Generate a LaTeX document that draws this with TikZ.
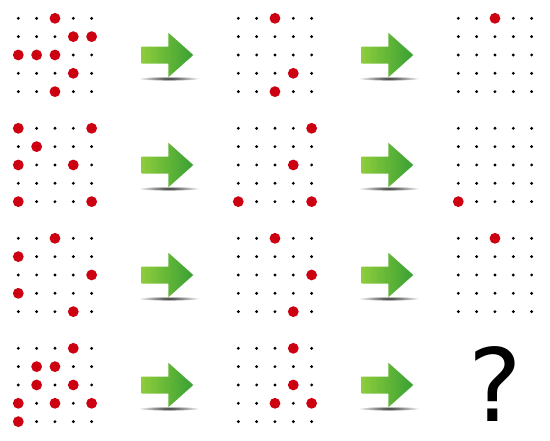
\documentclass[tikz,border=0pt]{standalone}
\usepackage{fontspec}
\newfontfamily\qfont{DejaVu Sans}
\definecolor{dotred}{RGB}{204,0,16}
\definecolor{arrowlight}{RGB}{142,204,60}
\definecolor{arrowdark}{RGB}{56,160,52}
\tikzset{
  smalldot/.style={fill=black},
  reddot/.style={fill=dotred},
  arrowbody/.style={left color=arrowlight, right color=arrowdark},
  arrowshadow/.style={inner color=black!85, outer color=white},
}
\newcommand\dotgrid[3]{%
  \foreach \i in {0,...,4}{\foreach \j in {0,...,4}{%
    \fill[smalldot] ({#1+\i*18.333},{#2+\j*18.333}) circle (1.6);}}
  \foreach \i/\j in {#3}{%
    \fill[reddot] ({#1+\i*18.333},{#2+\j*18.333}) circle (5.4);}
}
\newcommand\greenarrow[2]{%
  \begin{scope}[shift={(#1,#2)}]
    \shade[arrowshadow] (169,23.5) ellipse (31 and 2.3);
    \shade[arrowbody] (141.7,-8.5) -- (168.3,-8.5) -- (168.3,-22.3) -- (193.3,0)
      -- (168.3,22.3) -- (168.3,8.5) -- (141.7,8.5) -- cycle;
  \end{scope}
}
\begin{document}
\begin{tikzpicture}[x=1pt,y=-1pt]
\useasboundingbox[fill=white] (0,0) rectangle (550,440);
% row 1
\dotgrid{18.3}{18.3}{2/0,3/1,4/1,0/2,1/2,2/2,3/3,2/4}
\dotgrid{238.3}{18.3}{2/0,3/3,2/4}
\dotgrid{458.3}{18.3}{2/0}
% row 2
\dotgrid{18.3}{128.3}{0/0,4/0,1/1,0/2,3/2,0/4,4/4}
\dotgrid{238.3}{128.3}{4/0,3/2,0/4,4/4}
\dotgrid{458.3}{128.3}{0/4}
% row 3
\dotgrid{18.3}{238.3}{2/0,0/1,4/2,0/3,3/4}
\dotgrid{238.3}{238.3}{2/0,4/2,3/4}
\dotgrid{458.3}{238.3}{2/0}
% row 4
\dotgrid{18.3}{348.3}{3/0,1/1,2/1,1/2,3/2,0/3,2/3,4/3,0/4}
\dotgrid{238.3}{348.3}{3/0,3/2,2/3,4/3}
% arrows
\foreach \r in {0,1,2,3}{%
  \greenarrow{0}{55+\r*110}
  \greenarrow{220}{55+\r*110}
}
\node[anchor=base, inner sep=0pt, font=\qfont\fontsize{101}{101}\selectfont] (q) at (495,421) {?};
\end{tikzpicture}
\end{document}
